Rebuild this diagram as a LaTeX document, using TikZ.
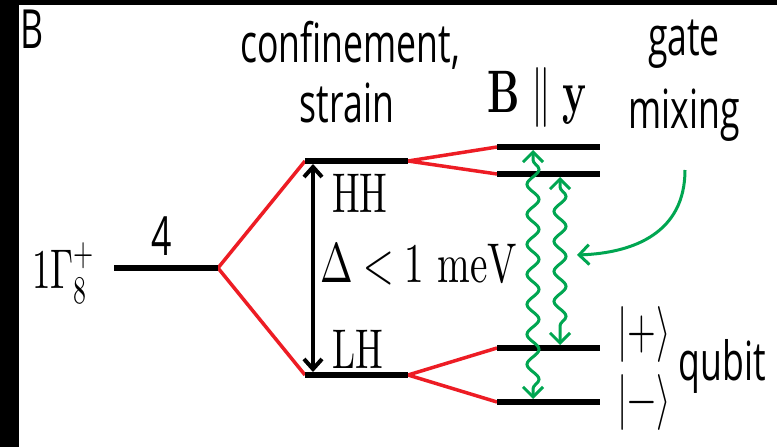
\documentclass[tikz,border=0pt]{standalone}
\usepackage{fontspec}
\usepackage{unicode-math}
\setmainfont{lmroman10-regular.otf}[BoldFont=lmroman10-bold.otf]
\setmathfont{Latin Modern Math}
\setsansfont{Open Sans}
\usepackage{graphicx}
\usetikzlibrary{decorations.pathmorphing,arrows.meta}
\definecolor{redline}{RGB}{237,28,36}
\definecolor{greenw}{RGB}{0,166,81}
\newcommand\sq[1]{\scalebox{0.66}[1]{#1}}
\newcommand\serifsz{\fontsize{56}{60}\selectfont}
\newcommand\sanssz{\sffamily\fontsize{54}{58}\selectfont}
\begin{document}
\begin{tikzpicture}[x=1pt,y=-1pt,
  level/.style={line width=6.5pt},
  splitline/.style={line width=3.5pt, draw=redline},
  lbl/.style={inner sep=0pt, outer sep=0pt},
  wave/.style={draw=greenw, line width=3pt, decorate,
    decoration={snake, segment length=30pt, amplitude=6pt, pre length=10pt, post length=10pt},
    {Straight Barb[length=10pt,width=20pt]}-{Straight Barb[length=10pt,width=20pt]}},
  gap/.style={line width=4pt, {Straight Barb[length=10pt,width=18pt]}-{Straight Barb[length=10pt,width=18pt]}}]
\useasboundingbox (0,0) rectangle (777,447);
\fill[white] (0,0) rectangle (777,447);
\fill[black] (0,0) rectangle (19,447);
\fill[black] (0,0) rectangle (777,5);

% coordinates
\coordinate (g0) at (114,268);
\coordinate (g1) at (218,268);
\coordinate (h0) at (305,161);
\coordinate (h1) at (408,161);
\coordinate (l0) at (305,375);
\coordinate (l1) at (408,375);
\coordinate (a0) at (497,147);
\coordinate (a1) at (600,147);
\coordinate (b0) at (497,174);
\coordinate (b1) at (600,174);
\coordinate (c0) at (497,348);
\coordinate (c1) at (600,348);
\coordinate (d0) at (497,402);
\coordinate (d1) at (600,402);

% red splittings
\draw[splitline] (g1) -- (h0);
\draw[splitline] (g1) -- (l0);
\draw[splitline] (h1) -- (a0);
\draw[splitline] (h1) -- (b0);
\draw[splitline] (l1) -- (c0);
\draw[splitline] (l1) -- (d0);

% levels
\draw[level] (g0) -- (g1);
\draw[level] (h0) -- (h1);
\draw[level] (l0) -- (l1);
\draw[level] (a0) -- (a1);
\draw[level] (b0) -- (b1);
\draw[level] (c0) -- (c1);
\draw[level] (d0) -- (d1);

% gap arrow
\coordinate (ga) at (313,164);
\coordinate (gb) at (313,372);
\draw[gap] (ga) -- (gb);

% wavy transitions
\coordinate (w1a) at (533,150);
\coordinate (w1b) at (533,399);
\coordinate (w2a) at (560,177);
\coordinate (w2b) at (560,345);
\draw[wave] (w1a) -- (w1b);
\draw[wave] (w2a) -- (w2b);

% gate mixing arrow
\coordinate (m0) at (685,170);
\coordinate (m1) at (577,255);
\draw[greenw, line width=3pt, -{Straight Barb[length=10pt,width=20pt]}]
  (m0) .. controls (685,232) and (635,253) .. (m1);

% labels
\node[lbl, anchor=base] (panel) at (32,48) {\sanssz\sq{B}};
\node[lbl, anchor=base] (conf) at (350,62) {\sanssz\sq{confinement,}};
\node[lbl, anchor=base] (strain) at (347,122) {\sanssz\sq{strain}};
\node[lbl, anchor=base] (gate) at (684,55) {\sanssz\sq{gate}};
\node[lbl, anchor=base] (mixing) at (684,128) {\sanssz\sq{mixing}};
\node[lbl, anchor=base] (qubit) at (722,380) {\sanssz\sq{qubit}};
\node[lbl, anchor=base] (deg) at (162,255) {\sanssz\sq{4}};
\node[lbl, anchor=base west] (gam) at (32,288) {\serifsz\sq{$1\Gamma_8^+$}};
\node[lbl, anchor=base west] (hh) at (332,212) {\serifsz\sq{HH}};
\node[lbl, anchor=base west] (lh) at (332,368) {\serifsz\sq{LH}};
\node[lbl, anchor=base west] (delta) at (320,282) {\serifsz\scalebox{0.7}[1]{$\Delta<1\ \mathrm{meV}$}};
\node[lbl, anchor=base] (field) at (537,112) {\fontsize{60}{64}\selectfont\sq{$\symbf{B}\parallel\symbf{y}$}};
\node[lbl, anchor=center] (plus) at (644,334) {\serifsz\sq{$|+\rangle$}};
\node[lbl, anchor=center] (minus) at (644,402) {\serifsz\sq{$|-\rangle$}};
\end{tikzpicture}
\end{document}
